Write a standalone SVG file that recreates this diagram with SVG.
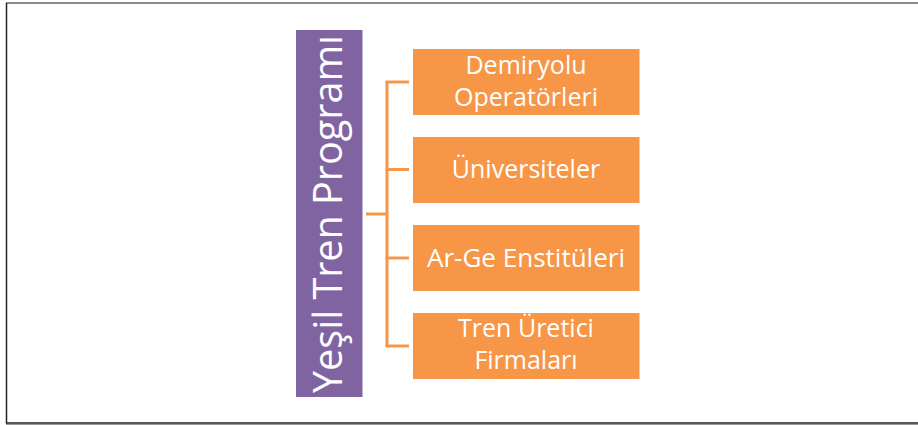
<svg xmlns="http://www.w3.org/2000/svg" width="918" height="425" viewBox="0 0 918 425">
  <style>
    .box { fill: #F79646; }
    .root { fill: #8064A2; }
    .lbl { fill: #FFFFFF; font-family: "Open Sans", "Liberation Sans", sans-serif; font-size: 25px; text-anchor: middle; }
    .title { fill: #FFFFFF; font-family: "Open Sans", "Liberation Sans", sans-serif; font-size: 41px; text-anchor: middle; }
    .conn { stroke: #F79646; stroke-width: 3; fill: none; }
  </style>
  <rect width="918" height="425" fill="#FFFFFF"/>
  <!-- frame -->
  <g id="frame" fill="none">
    <line x1="6" y1="3" x2="918" y2="3" stroke="#666" stroke-width="1.5"/>
    <line x1="6.5" y1="3" x2="6.5" y2="423.5" stroke="#222" stroke-width="1.5"/>
    <line x1="6" y1="423" x2="918" y2="423" stroke="#222" stroke-width="1.5"/>
    <line x1="6" y1="424.5" x2="918" y2="424.5" stroke="#999" stroke-width="1"/>
  </g>
  <!-- connectors -->
  <g id="connectors" class="conn">
    <line x1="366" y1="214" x2="387" y2="214"/>
    <line x1="387" y1="81.5" x2="387" y2="346.5"/>
    <line x1="385.5" y1="82" x2="409" y2="82"/>
    <line x1="385.5" y1="169.5" x2="409" y2="169.5"/>
    <line x1="385.5" y1="258" x2="409" y2="258"/>
    <line x1="385.5" y1="346" x2="409" y2="346"/>
  </g>
  <g id="root">
    <rect class="root" x="296" y="30" width="66.5" height="367"/>
    <text class="title" transform="translate(342,214) rotate(-90)" textLength="358" lengthAdjust="spacingAndGlyphs">Yeşil Tren Programı</text>
  </g>
  <g id="n1">
    <rect class="box" x="413" y="49" width="226.5" height="66"/>
    <text class="lbl" x="526" y="74">Demiryolu</text>
    <text class="lbl" x="526" y="105.5">Operatörleri</text>
  </g>
  <g id="n2">
    <rect class="box" x="413" y="137" width="226.5" height="66"/>
    <text class="lbl" x="526" y="178">Üniversiteler</text>
  </g>
  <g id="n3">
    <rect class="box" x="413" y="225" width="226.5" height="66"/>
    <text class="lbl" x="526" y="267" textLength="198" lengthAdjust="spacingAndGlyphs">Ar-Ge Enstitüleri</text>
  </g>
  <g id="n4">
    <rect class="box" x="413" y="313" width="226.5" height="66"/>
    <text class="lbl" x="526" y="337">Tren Üretici</text>
    <text class="lbl" x="526" y="368.5">Firmaları</text>
  </g>
</svg>
